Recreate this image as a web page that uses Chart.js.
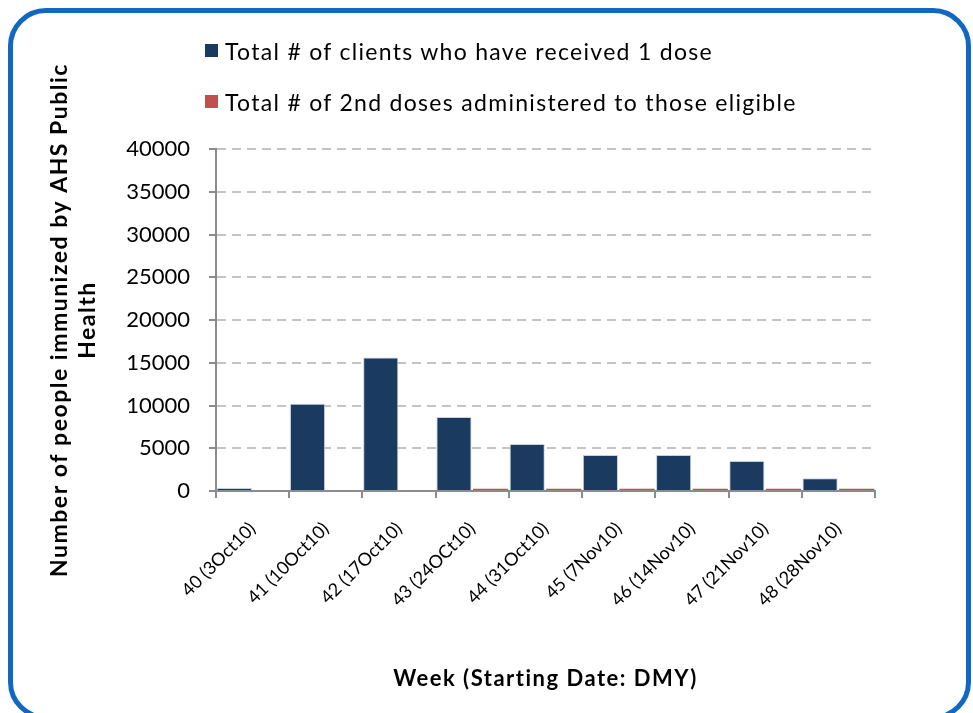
<!DOCTYPE html>
<html>
<head>
<meta charset="utf-8">
<script src="https://cdn.jsdelivr.net/npm/chart.js@4.4.0/dist/chart.umd.min.js"></script>
<style>
  html, body { margin: 0; padding: 0; background: #fff; }
  body { width: 973px; height: 713px; position: relative; overflow: hidden; font-family: Lato, "Open Sans", sans-serif; }
  .frame { position: absolute; left: 8px; top: 8px; width: 963px; height: 712px; border: 5px solid #1068c2; border-radius: 38px; box-sizing: border-box; }
  .wrap { position: absolute; left: 0; top: 0; width: 973px; height: 713px; }
  .legend { position: absolute; left: 205px; top: 25px; font-size: 23px; color: #000; }
  .legend div { height: 51px; display: flex; align-items: center; letter-spacing: 1.3px; }
  .legend span.box { width: 13px; height: 13px; display: inline-block; margin-right: 7px; }
</style>
</head>
<body>
<div class="wrap"><canvas id="myChart" width="973" height="713"></canvas></div>
<div class="frame"></div>
<div class="legend" id="legend"></div>
<script>
const weeks = ['40 (3Oct10)', '41 (10Oct10)', '42 (17Oct10)', '43 (24OCt10)', '44 (31Oct10)',
  '45 (7Nov10)', '46 (14Nov10)', '47 (21Nov10)', '48 (28Nov10)'];
const firstDose = [350, 10200, 15600, 8650, 5500, 4200, 4200, 3500, 1500];
const secondDose = [0, 0, 0, 250, 250, 250, 250, 250, 250];
const seriesNames = ['Total # of clients who have received 1 dose', 'Total # of 2nd doses administered to those eligible'];
const seriesColors = ['#1b3a60', '#c0504d'];
const yTicks = [0, 5000, 10000, 15000, 20000, 25000, 30000, 35000, 40000];

const ctx = document.getElementById('myChart');
const legend = document.getElementById('legend');
legend.innerHTML = seriesNames.map((n, i) =>
  `<div><span class="box" style="background:${seriesColors[i]}"></span>${n}</div>`).join('');

const font = 'Lato';

// axis titles in the original are spaced out, only do it for the titles
const drawTitle = Chart.Scale.prototype.drawTitle;
Chart.Scale.prototype.drawTitle = function () {
  this.ctx.save();
  this.ctx.letterSpacing = '1.5px';
  drawTitle.call(this);
  this.ctx.restore();
};

new Chart(ctx, {
  type: 'bar',
  data: {
    labels: weeks,
    datasets: [
      { label: seriesNames[0], data: firstDose, backgroundColor: seriesColors[0], borderColor: '#c8d0dc', borderWidth: 1 },
      { label: seriesNames[1], data: secondDose, backgroundColor: seriesColors[1], borderWidth: 0 }
    ]
  },
  options: {
    responsive: false,
    animation: false,
    devicePixelRatio: 1,
    layout: { padding: { left: 0, right: 98, top: 149, bottom: 0 } },
    datasets: { bar: { categoryPercentage: 1.0, barPercentage: 0.96 } },
    plugins: { legend: { display: false }, tooltip: { enabled: false } },
    scales: {
      x: {
        afterFit: (s) => { s.height = 222; },
        grid: { display: true, drawOnChartArea: false, drawTicks: true, tickLength: 7, color: '#8c8c8c', lineWidth: 2, offset: true },
        border: { color: '#8c8c8c', width: 2 },
        ticks: { color: '#000', font: { family: font, size: 18 }, minRotation: 45, maxRotation: 45, padding: 20, autoSkip: false },
        title: { display: true, text: 'Week (Starting Date: DMY)', color: '#000', font: { family: font, size: 22, weight: 'bold' }, padding: { top: 0, bottom: 21 } }
      },
      y: {
        min: 0,
        max: 40000,
        afterFit: (s) => { s.width = 216; },
        afterBuildTicks: (s) => { s.ticks = yTicks.map(v => ({ value: v })); },
        grid: { color: (c) => c.tick && c.tick.value === 0 ? 'rgba(0,0,0,0)' : '#c4c4c4', lineWidth: 2, tickLength: 7, tickColor: '#8c8c8c', tickBorderDash: [], drawTicks: true },
        border: { color: '#8c8c8c', width: 2, dash: [9, 6] },
        ticks: { color: '#000', font: { family: font, size: 22 }, padding: 19, callback: (v) => v },
        title: { display: true, text: ['Number of people immunized by AHS Public', 'Health'], color: '#000', font: { family: font, size: 23, weight: 'bold' }, padding: { top: 46, bottom: 0 } }
      }
    }
  }
});
</script>
</body>
</html>
